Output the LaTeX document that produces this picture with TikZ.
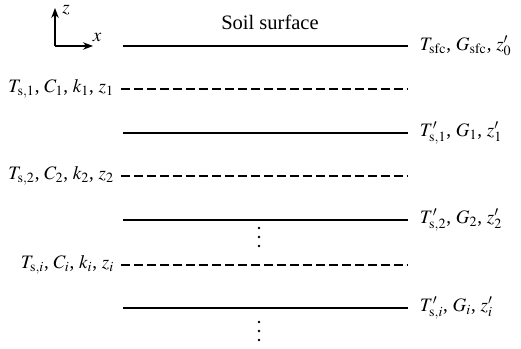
\documentclass[tikz,border=0pt]{standalone}
\usepackage{mathptmx}
\usepackage{fontspec}
\setmainfont{Liberation Serif}
\usetikzlibrary{arrows.meta,positioning}

\tikzset{
  layer/.style={line width=0.8pt},
  interface/.style={line width=0.8pt,dash pattern=on 5.2pt off 2.6pt},
  lab/.style={inner sep=1pt,font=\fontsize{11.4}{13}\selectfont},
}

\begin{document}
\begin{tikzpicture}[x=0.6pt,y=-0.6pt]
\useasboundingbox (0,0) rectangle (521,349);
% axes
\coordinate (o) at (55,46);
\coordinate (xe) at (93,46);
\coordinate (ze) at (55,8);
\draw[line width=0.8pt,-{Stealth[length=6pt,width=4.5pt]}] (o) -- (xe);
\draw[line width=0.8pt,-{Stealth[length=6pt,width=4.5pt]}] (o) -- (ze);
\node[lab] (xl) at (97,37) {$x$};
\node[lab] (zl) at (66,10) {$z$};
\node[lab,font=\fontsize{12.3}{14}\selectfont] (soil) at (270,22) {Soil surface};
% solid lines (nodes of the grid)
\foreach \y/\t/\n in {46/{$T_{\mathrm{sfc}}$, $G_{\mathrm{sfc}}$, $z'_0$}/0,
                      133/{$T'_{\mathrm{s},1}$, $G_1$, $z'_1$}/1,
                      220/{$T'_{\mathrm{s},2}$, $G_2$, $z'_2$}/2,
                      308/{$T'_{\mathrm{s},i}$, $G_i$, $z'_i$}/i} {
  \coordinate (s\n) at (123,\y);
  \coordinate (e\n) at (408,\y);
  \node[lab,anchor=west] (r\n) at (418,\y) {\t};
  \draw[layer] (s\n) -- (e\n);
}
% dashed lines (layer interfaces)
\foreach \y/\t/\n in {89/{$T_{\mathrm{s},1}$, $C_1$, $k_1$, $z_1$}/1,
                      176/{$T_{\mathrm{s},2}$, $C_2$, $k_2$, $z_2$}/2,
                      265/{$T_{\mathrm{s},i}$, $C_i$, $k_i$, $z_i$}/i} {
  \coordinate (d\n) at (408,\y);
  \node[lab,anchor=east] (l\n) at (116,\y) {\t};
  \draw[interface] ([xshift=3pt]l\n.east) -- (d\n);
}
% vertical ellipses
\foreach \y in {228,237,246,322,331,340}
  \fill (259,\y) circle (1.4);
\end{tikzpicture}
\end{document}
